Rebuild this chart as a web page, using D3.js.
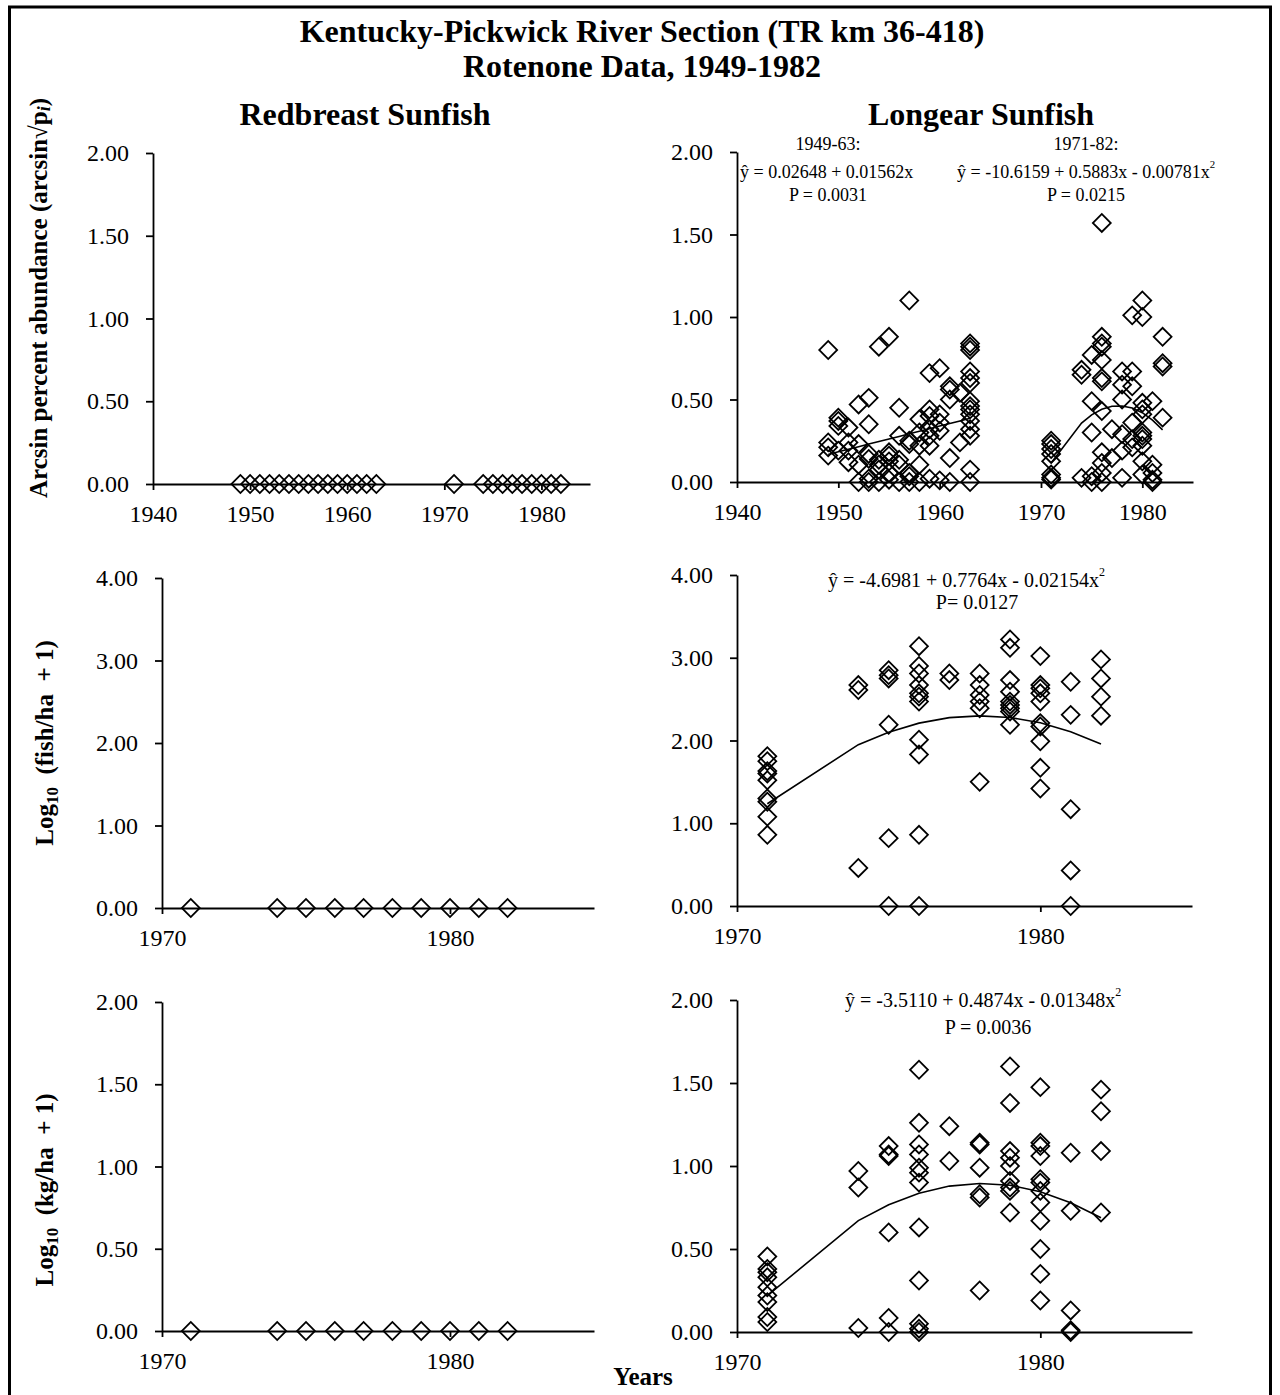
<!DOCTYPE html>
<html><head><meta charset="utf-8">
<script src="https://cdn.jsdelivr.net/npm/d3@7"></script>
<style>
body{margin:0;background:#fff}
svg{display:block}
text{font-family:"Liberation Serif","Times New Roman",serif;fill:#000;white-space:pre}
</style>
</head><body>
<svg id="c" width="1280" height="1395"></svg>
<script>
// ---------- DATA ----------
const titleLines = ["Kentucky-Pickwick River Section (TR km 36-418)", "Rotenone Data, 1949-1982"];
const speciesNames = ["Redbreast Sunfish", "Longear Sunfish"];
const yLabels = ["Arcsin percent abundance (arcsin√p", "Log", "Log"];

const ticksEarly = [1940, 1950, 1960, 1970, 1980];
const ticksLate = [1970, 1980];
const yTicks2 = [0, 0.5, 1, 1.5, 2];
const yTicks4 = [0, 1, 2, 3, 4];

// Redbreast (all zero)
const rbEarlyYears = [1949,1950,1951,1952,1953,1954,1955,1956,1957,1958,1959,1960,1961,1962,1963,1971,1974,1975,1976,1977,1978,1979,1980,1981,1982];
const rbEarlyValues = [0,0,0,0,0,0,0,0,0,0,0,0,0,0,0,0,0,0,0,0,0,0,0,0,0];
const rbLateYears = [1971,1974,1975,1976,1977,1978,1979,1980,1981,1982];
const rbLateValues = [0,0,0,0,0,0,0,0,0,0];

// Longear - arcsin percent abundance
const leArcYears = [1949,1950,1951,1952,1953,1954,1955,1956,1957,1958,1959,1960,1961,1962,1963,
                    1971,1974,1975,1976,1977,1978,1979,1980,1981,1982];
const leArcValues = [
  [0.80,0.24,0.21,0.16],
  [0.39,0.37,0.34,0.19],
  [0.33,0.24,0.19,0.12],
  [0.47,0.23,0.105,0],
  [0.51,0.35,0.17,0.14,0.02,0],
  [0.82,0.135,0.105,0.075,0],
  [0.88,0.18,0.16,0.125,0.055,0.014],
  [0.45,0.28,0.135,0.105,0],
  [1.10,0.25,0.23,0.055,0.035,0],
  [0.38,0.30,0.22,0.105,0],
  [0.66,0.44,0.40,0.32,0.28,0.22,0.02],
  [0.69,0.41,0.36,0.31,0.01],
  [0.58,0.56,0.50,0.145,0],
  [0.54,0.24],
  [0.84,0.82,0.80,0.67,0.63,0.60,0.49,0.46,0.44,0.41,0.37,0.32,0.28,0.075,0],
  [0.25,0.23,0.20,0.17,0.125,0.045,0.025,0.015],
  [0.68,0.65,0.025],
  [0.77,0.49,0.30,0.035,0],
  [1.57,0.88,0.84,0.82,0.74,0.63,0.61,0.43,0.18,0.115,0.055,0],
  [0.32,0.145],
  [0.67,0.59,0.50,0.29,0.19,0.025],
  [1.01,0.67,0.58,0.36,0.26,0.21],
  [1.10,1.00,0.48,0.44,0.41,0.30,0.28,0.26,0.22,0.125,0.045],
  [0.49,0.105,0.055,0.014,0],
  [0.88,0.72,0.70,0.39]
];
const leArcFit1Years = [1949,1950,1951,1952,1953,1954,1955,1956,1957,1958,1959,1960,1961,1962,1963];
const leArcFit1Values = [0.167,0.183,0.198,0.214,0.230,0.245,0.261,0.276,0.292,0.308,0.323,0.339,0.354,0.370,0.386];
const leArcFit2Years = [1971,1974,1975,1976,1977,1978,1979,1980,1981,1982];
const leArcFit2Values = [0.115,0.357,0.407,0.441,0.459,0.461,0.449,0.420,0.375,0.316];

// Longear - log10(fish/ha + 1)
const leLateYears = [1971,1974,1975,1976,1977,1978,1979,1980,1981,1982];
const leFishValues = [
  [1.81,1.75,1.63,1.60,1.52,1.30,1.26,1.08,0.86],
  [2.67,2.61,0.46],
  [2.85,2.79,2.75,2.19,0.82,0],
  [3.14,2.90,2.81,2.67,2.57,2.53,2.47,2.01,1.83,0.86,0],
  [2.81,2.73],
  [2.81,2.67,2.55,2.47,2.39,1.50],
  [3.22,3.12,2.73,2.59,2.47,2.43,2.39,2.35,2.19],
  [3.02,2.67,2.63,2.57,2.47,2.21,2.17,1.99,1.67,1.42],
  [2.71,2.31,1.17,0.43,0],
  [2.98,2.75,2.53,2.30]
];
const leFishFitValues = [1.236,1.950,2.101,2.210,2.276,2.298,2.278,2.214,2.107,1.958];

// Longear - log10(kg/ha + 1)
const leKgValues = [
  [0.455,0.38,0.36,0.33,0.27,0.22,0.18,0.09,0.06],
  [0.97,0.87,0.024],
  [1.12,1.07,1.06,0.60,0.085,0],
  [1.58,1.26,1.13,1.07,0.99,0.96,0.90,0.63,0.31,0.05,0.02,0],
  [1.24,1.03],
  [1.14,1.13,0.99,0.83,0.81,0.25],
  [1.60,1.38,1.09,1.05,1.00,0.91,0.87,0.85,0.72],
  [1.475,1.14,1.12,1.06,0.92,0.90,0.85,0.78,0.67,0.50,0.35,0.19],
  [1.08,0.73,0.13,0.01,0],
  [1.46,1.33,1.09,0.72]
];
const leKgFitValues = [0.219,0.671,0.767,0.836,0.879,0.895,0.884,0.845,0.779,0.688];

// ---------- DRAW ----------
const svg = d3.select("#c");
const FONT = '"Liberation Serif","Times New Roman",serif';

svg.append("rect").attr("x",9.5).attr("y",7).attr("width",1261).attr("height",1420)
  .attr("fill","none").attr("stroke","#000").attr("stroke-width",3);

svg.append("text").attr("x",642).attr("y",42).attr("text-anchor","middle")
  .attr("font-size",32).attr("font-weight","bold").text(titleLines[0]);
svg.append("text").attr("x",642).attr("y",77).attr("text-anchor","middle")
  .attr("font-size",32).attr("font-weight","bold").text(titleLines[1]);
svg.append("text").attr("x",365).attr("y",125).attr("text-anchor","middle")
  .attr("font-size",32).attr("font-weight","bold").text(speciesNames[0]);
svg.append("text").attr("x",981).attr("y",125).attr("text-anchor","middle")
  .attr("font-size",32).attr("font-weight","bold").text(speciesNames[1]);

const diamond = d3.symbol(d3.symbolSquare, 160)();

function flatten(years, values) {
  const out = [];
  years.forEach((yr, i) => {
    const v = values[i];
    if (Array.isArray(v)) v.forEach(val => out.push([yr, val]));
    else out.push([yr, v]);
  });
  return out;
}

function panel(cfg) {
  const x = d3.scaleLinear().domain(cfg.xd).range(cfg.xr);
  const y = d3.scaleLinear().domain(cfg.yd).range(cfg.yr);
  const g = svg.append("g");
  const yAxis = d3.axisLeft(y).tickValues(cfg.yticks).tickFormat(d3.format(".2f"))
    .tickSize(7).tickSizeOuter(0).tickPadding(17);
  const xAxis = d3.axisBottom(x).tickValues(cfg.xticks).tickFormat(d3.format("d"))
    .tickSize(6).tickSizeOuter(0).tickPadding(15);
  const ya = g.append("g").attr("transform",`translate(${cfg.xr[0]},0)`).call(yAxis);
  const xa = g.append("g").attr("transform",`translate(0,${y(0)})`).call(xAxis);
  [ya, xa].forEach(a => {
    a.selectAll("path,line").attr("stroke","#000").attr("stroke-width",1.8);
    a.selectAll("text").attr("font-family",FONT).attr("font-size",24).attr("fill","#000");
  });
  // fits
  (cfg.fits || []).forEach(f => {
    const pts = f.years.map((yr, i) => [yr, f.values[i]]);
    g.append("path").datum(pts)
      .attr("d", d3.line().x(d => x(d[0])).y(d => y(d[1])))
      .attr("fill","none").attr("stroke","#000").attr("stroke-width",1.6);
  });
  // points
  g.append("g").selectAll("path").data(cfg.points).join("path")
    .attr("d", diamond)
    .attr("transform", d => `translate(${x(d[0])},${y(d[1])}) rotate(45)`)
    .attr("fill","none").attr("stroke","#000").attr("stroke-width",1.8);
  return {x, y};
}

panel({xd:[1940,1985], xr:[153,590], yd:[0,2], yr:[484,153], yticks:yTicks2, xticks:ticksEarly,
       points: flatten(rbEarlyYears, rbEarlyValues)});
panel({xd:[1940,1985], xr:[737,1193], yd:[0,2], yr:[482,152], yticks:yTicks2, xticks:ticksEarly,
       points: flatten(leArcYears, leArcValues),
       fits:[{years:leArcFit1Years, values:leArcFit1Values},{years:leArcFit2Years, values:leArcFit2Values}]});
panel({xd:[1970,1985], xr:[162,594], yd:[0,4], yr:[908,578], yticks:yTicks4, xticks:ticksLate,
       points: flatten(rbLateYears, rbLateValues)});
panel({xd:[1970,1985], xr:[737,1192], yd:[0,4], yr:[906,575], yticks:yTicks4, xticks:ticksLate,
       points: flatten(leLateYears, leFishValues),
       fits:[{years:leLateYears, values:leFishFitValues}]});
panel({xd:[1970,1985], xr:[162,594], yd:[0,2], yr:[1331,1002], yticks:yTicks2, xticks:ticksLate,
       points: flatten(rbLateYears, rbLateValues)});
panel({xd:[1970,1985], xr:[737,1192], yd:[0,2], yr:[1332,1000], yticks:yTicks2, xticks:ticksLate,
       points: flatten(leLateYears, leKgValues),
       fits:[{years:leLateYears, values:leKgFitValues}]});

// y labels
function yLabel(cx, cy, build) {
  const t = svg.append("text").attr("transform",`translate(${cx},${cy}) rotate(-90)`)
    .attr("text-anchor","middle").attr("font-size",25).attr("font-weight","bold");
  build(t);
}
yLabel(47, 298, t => {
  t.append("tspan").text(yLabels[0]);
  t.append("tspan").attr("font-style","italic").attr("font-size",18).attr("dy",3).text("i");
  t.append("tspan").attr("dy",-3).text(")");
});
yLabel(53, 743, t => {
  t.append("tspan").text(yLabels[1]);
  t.append("tspan").attr("font-size",17).attr("dy",5).text("10");
  t.append("tspan").attr("dy",-5).text("  (fish/ha  + 1)");
});
yLabel(53, 1190, t => {
  t.append("tspan").text(yLabels[2]);
  t.append("tspan").attr("font-size",17).attr("dy",5).text("10");
  t.append("tspan").attr("dy",-5).text("  (kg/ha  + 1)");
});

svg.append("text").attr("x",643).attr("y",1385).attr("text-anchor","middle")
  .attr("font-size",25).attr("font-weight","bold").text("Years");

// equations
function eq(x, yb, size, main, sup, anchor) {
  const t = svg.append("text").attr("x",x).attr("y",yb).attr("font-size",size)
    .attr("text-anchor",anchor || "start");
  t.append("tspan").text(main);
  if (sup) t.append("tspan").attr("font-size",size*0.6).attr("dy",-size*0.55).text(sup);
}
eq(828, 150, 18, "1949-63:", null, "middle");
eq(740, 178, 18, "ŷ = 0.02648 + 0.01562x", null);
eq(828, 201, 18, "P = 0.0031", null, "middle");
eq(1086, 150, 18, "1971-82:", null, "middle");
eq(957, 178, 18, "ŷ = -10.6159 + 0.5883x - 0.00781x", "2");
eq(1086, 201, 18, "P = 0.0215", null, "middle");
eq(828, 587, 20, "ŷ = -4.6981 + 0.7764x - 0.02154x", "2");
eq(977, 609, 20, "P= 0.0127", null, "middle");
eq(845, 1007, 20, "ŷ = -3.5110 + 0.4874x - 0.01348x", "2");
eq(988, 1034, 20, "P = 0.0036", null, "middle");
</script>
</body></html>
